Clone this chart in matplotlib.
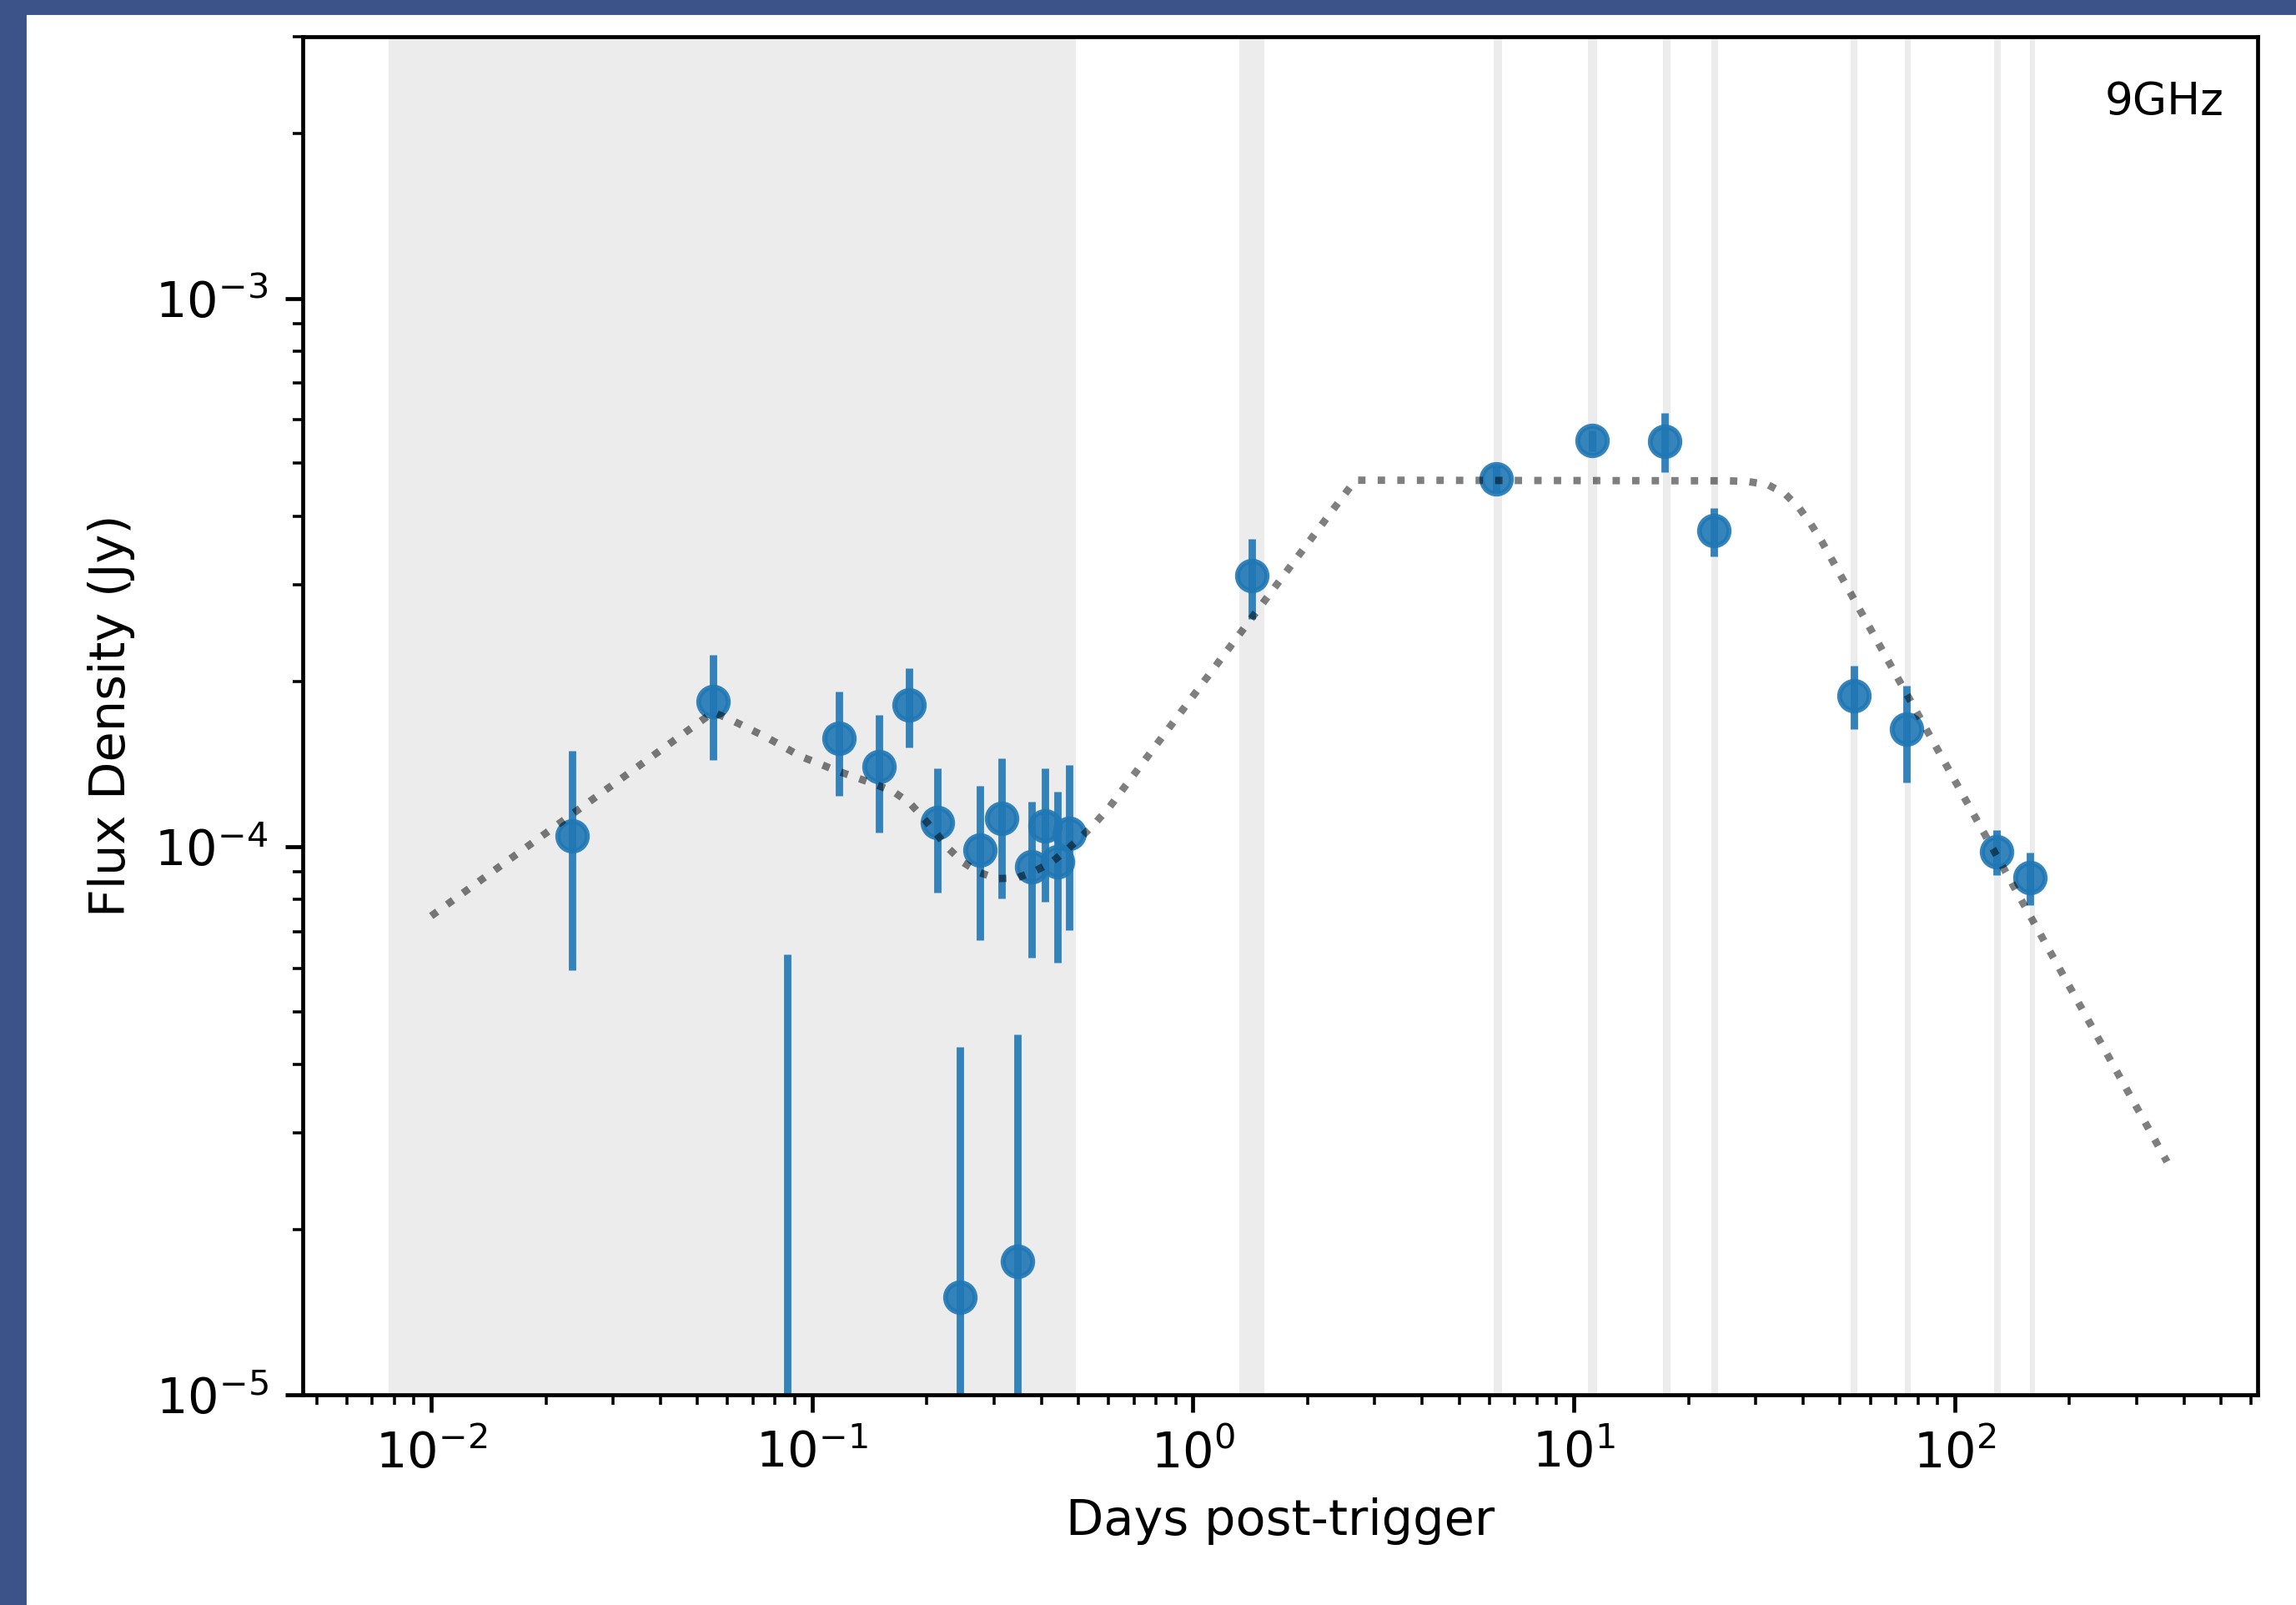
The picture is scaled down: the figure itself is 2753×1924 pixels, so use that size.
import numpy as np
import matplotlib
matplotlib.use("Agg")
import matplotlib.pyplot as plt
from matplotlib.patches import Rectangle

# 9 GHz light curve: days post-trigger, flux density (Jy), 1-sigma error (Jy)
days = [0.0235, 0.0550, 0.0863, 0.1178, 0.1496, 0.1800, 0.2129, 0.2441,
        0.2758, 0.3148, 0.3457, 0.3777, 0.4093, 0.4408, 0.4721,
        1.428, 6.26, 11.14, 17.31, 23.35, 54.28, 74.6, 128.8, 157.3]
flux = [1.044e-4, 1.84e-4, 4.0e-6, 1.577e-4, 1.40e-4, 1.815e-4, 1.107e-4, 1.507e-5,
        9.84e-5, 1.127e-4, 1.750e-5, 9.18e-5, 1.091e-4, 9.37e-5, 1.057e-4,
        3.12e-4, 4.69e-4, 5.50e-4, 5.49e-4, 3.765e-4, 1.886e-4, 1.637e-4, 9.80e-5, 8.79e-5]
flux_err = [4.5e-5, 4.0e-5, 5.95e-5, 3.4e-5, 3.4e-5, 3.0e-5, 2.83e-5, 2.8e-5,
            3.08e-5, 3.24e-5, 2.8e-5, 2.9e-5, 2.99e-5, 3.22e-5, 3.53e-5,
            5.2e-5, 2.5e-5, 2.5e-5, 6.8e-5, 3.84e-5, 2.5e-5, 3.3e-5, 9.2e-6, 9.7e-6]

# model curve
model_t = [0.01, 0.0550, 0.0613, 0.0761, 0.0932, 0.1158, 0.1472, 0.1636, 0.1804,
           0.1955, 0.2109, 0.2275, 0.2478, 0.2736, 0.3052, 0.3444, 0.3836, 0.4263,
           0.4685, 0.5110, 0.5560, 0.6029, 1.151, 2.352, 2.668, 25.57, 28.82,
           32.40, 35.92, 39.05, 41.92, 44.68, 360.8]
model_f = [7.47e-5, 1.758e-4, 1.702e-4, 1.581e-4, 1.461e-4, 1.376e-4, 1.297e-4, 1.259e-4,
           1.201e-4, 1.130e-4, 1.060e-4, 9.94e-5, 9.38e-5, 8.98e-5, 8.74e-5, 8.76e-5,
           9.01e-5, 9.37e-5, 9.89e-5, 1.044e-4, 1.107e-4, 1.179e-4, 2.142e-4, 4.149e-4,
           4.658e-4, 4.646e-4, 4.630e-4, 4.566e-4, 4.393e-4, 4.145e-4, 3.873e-4,
           3.609e-4, 2.661e-5]

# observation windows (start, end) in days
obs_start = [0.00773, 1.324, 6.17, 10.9, 17.1, 23.0, 53.3, 73.8, 126.8, 157.2]
obs_end = [0.493, 1.54, 6.48, 11.5, 17.9, 23.9, 55.5, 76.7, 131.8, 162.4]

DPI = 425
fig = plt.figure(figsize=(2753 / DPI, 1924 / DPI), dpi=DPI)

# slide frame (top and left strips)
fig.patches.append(Rectangle((0, 1 - 15 / 1924), 1, 15 / 1924, transform=fig.transFigure,
                             color='#3b5388', zorder=-10))
fig.patches.append(Rectangle((0, 0), 29 / 2753, 1, transform=fig.transFigure,
                             color='#3b5388', zorder=-10))

ax = fig.add_axes([363 / 2753, 252 / 1924, 2344 / 2753, 1628 / 1924])

for s, e in zip(obs_start, obs_end):
    ax.axvspan(s, e, color='grey', alpha=0.15, linewidth=0, zorder=0)

ax.errorbar(days, flux, yerr=flux_err, fmt='o', color='C0', alpha=0.9, zorder=2)
ax.plot(model_t, model_f, ':', color='k', alpha=0.5, zorder=3)

ax.set_xscale('log')
ax.set_yscale('log')
ax.set_xlim(4.6e-3, 624)
ax.set_ylim(1e-5, 3e-3)
ax.set_xlabel('Days post-trigger')
ax.set_ylabel('Flux Density (Jy)')
ax.text(0.9827, 0.9428, '9GHz', transform=ax.transAxes, ha='right', va='baseline',
        fontsize=9)

fig.savefig('out.png', dpi=DPI)
